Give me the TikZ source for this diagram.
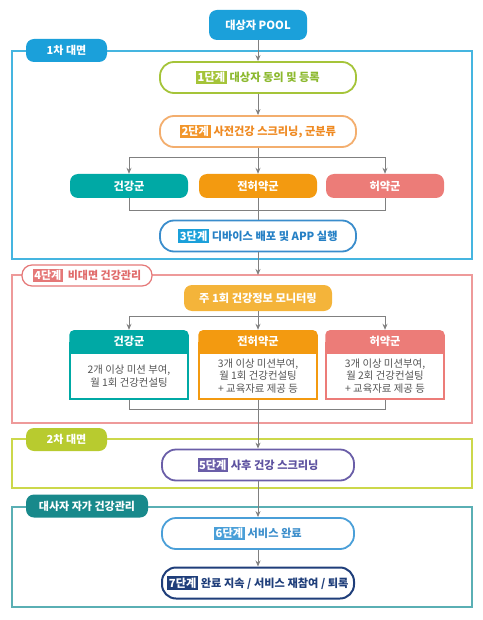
\documentclass[tikz,border=0pt]{standalone}
\usepackage{fontspec}
\setmainfont{Noto Sans CJK KR}
\usetikzlibrary{arrows.meta,calc}
\definecolor{sky}{HTML}{1BA0DA}
\definecolor{skyframe}{HTML}{45B5E0}
\definecolor{grn}{HTML}{A5C439}
\definecolor{grntxt}{HTML}{8CB92E}
\definecolor{org}{HTML}{F2962B}
\definecolor{orgtxt}{HTML}{EF8A22}
\definecolor{orgbd}{HTML}{F3AE6E}
\definecolor{blu}{HTML}{3A8DCC}
\definecolor{blutxt}{HTML}{2580C5}
\definecolor{tealg}{HTML}{00A9A5}
\definecolor{orgg}{HTML}{F39A10}
\definecolor{pinkg}{HTML}{EC7C78}
\definecolor{pinkfr}{HTML}{EE9A9A}
\definecolor{pinktag}{HTML}{E57878}
\definecolor{pinktxt}{HTML}{E06A6A}
\definecolor{gold}{HTML}{F4B43A}
\definecolor{yg}{HTML}{B8CB2F}
\definecolor{ygframe}{HTML}{CCD84B}
\definecolor{purp}{HTML}{6A5EA8}
\definecolor{purptxt}{HTML}{5D52A0}
\definecolor{teal2}{HTML}{18898B}
\definecolor{tealframe}{HTML}{5AAFB4}
\definecolor{lblu}{HTML}{4A9FD8}
\definecolor{lblutxt}{HTML}{3D8FCC}
\definecolor{navy}{HTML}{1F3E7A}
\definecolor{conn}{HTML}{808080}
\definecolor{bodytxt}{HTML}{555555}
\newcommand{\stagetag}[2]{{\setlength{\fboxsep}{1.5pt}\colorbox{#1}{\textcolor{white}{\bfseries #2}}}}
\begin{document}
\begin{tikzpicture}[x=1pt,y=-1pt,
  frame/.style={line width=1.5pt},
  tabbox/.style={rounded corners=8pt, text=white, font=\bfseries\fontsize{11}{13}\selectfont, minimum height=23pt, inner sep=2pt},
  pill/.style={draw, fill=white, rounded corners=14pt, line width=1.8pt, minimum width=196pt, minimum height=31pt, font=\bfseries\fontsize{11.2}{13}\selectfont, inner sep=2pt},
  grp/.style={rounded corners=8pt, text=white, minimum width=118pt, minimum height=24pt, font=\bfseries\fontsize{11.2}{13}\selectfont, inner sep=1pt},
  cardhead/.style={rounded corners=5pt, text=white, minimum width=119.5pt, minimum height=23pt, inner sep=1pt},
  headtxt/.style={text=white, font=\bfseries\fontsize{11.2}{13}\selectfont},
  cardbody/.style={fill=white, line width=1.5pt, minimum width=118pt, minimum height=46pt, align=center, text=bodytxt, font=\fontsize{10.4}{12.5}\selectfont, inner sep=1pt},
  line/.style={draw=conn, line width=1pt},
  arr/.style={line, -{Stealth[length=6pt,width=5pt]}}
]
\useasboundingbox (0,0) rectangle (482,620);
% frames
\draw[frame, draw=skyframe] (12,51) rectangle (472,259);
\draw[frame, draw=pinkfr] (12,275) rectangle (472,423);
\draw[frame, draw=ygframe] (12,439) rectangle (472,488);
\draw[frame, draw=tealframe] (12,507) rectangle (472,607);
\coordinate (f4top) at (258,275);
\coordinate (br1) at (258,158);
\coordinate (mg1) at (258,211);
\coordinate (br2) at (258,316);
\coordinate (mg2) at (258,409);

% nodes
\node[rounded corners=8pt, fill=sky, text=white, minimum width=98pt, minimum height=30pt, font=\bfseries\fontsize{11.2}{13}\selectfont] (pool) at (258,25) {대상자 POOL};
\node[tabbox, fill=sky, minimum width=81pt] (tab1) at (66.5,50.5) {1차 대면};
\node[pill, draw=grn, text=grntxt] (s1) at (258,77.5) {\stagetag{grn}{1단계}\hspace{3pt}대상자 동의 및 등록};
\node[pill, draw=orgbd, text=orgtxt] (s2) at (258,131.5) {\stagetag{org}{2단계}\hspace{3pt}사전건강 스크리닝, 군분류};
\node[grp, fill=tealg] (g1) at (129,186) {건강군};
\node[grp, fill=orgg] (g2) at (258,186) {전허약군};
\node[grp, fill=pinkg] (g3) at (385,186) {허약군};
\node[pill, draw=blu, text=blutxt] (s3) at (258,236) {\stagetag{sky}{3단계}\hspace{3pt}디바이스 배포 및 APP 실행};

\node[draw=pinktag, fill=white, line width=1.2pt, rounded corners=10pt, minimum width=130pt, minimum height=21pt, inner sep=2pt, font=\bfseries\fontsize{11}{13}\selectfont] (tab4) at (87,275.5) {\stagetag{pinktag}{4단계}\hspace{5pt}\textcolor{pinktxt}{비대면 건강관리}};
\node[rounded corners=8pt, fill=gold, text=white, minimum width=148pt, minimum height=26pt, font=\bfseries\fontsize{11.2}{13}\selectfont] (mon) at (258,298) {주 1회 건강정보 모니터링};

\node[cardbody, draw=tealg] (b1) at (129,376) {2개 이상 미션 부여,\\월 1회 건강컨설팅};
\node[cardbody, draw=orgg] (b2) at (258,376) {3개 이상 미션부여,\\월 1회 건강컨설팅\\+ 교육자료 제공 등};
\node[cardbody, draw=pinkg] (b3) at (385,376) {3개 이상 미션부여,\\월 2회 건강컨설팅\\+ 교육자료 제공 등};
\node[cardhead, fill=tealg] (h1) at (129,341.5) {};
\fill[tealg] (h1.west) rectangle (h1.south east);
\node[cardhead, fill=orgg] (h2) at (258,341.5) {};
\fill[orgg] (h2.west) rectangle (h2.south east);
\node[cardhead, fill=pinkg] (h3) at (385,341.5) {};
\fill[pinkg] (h3.west) rectangle (h3.south east);
\node[headtxt] (t1) at (h1.center) {건강군};
\node[headtxt] (t2) at (h2.center) {전허약군};
\node[headtxt] (t3) at (h3.center) {허약군};

\node[tabbox, fill=yg, minimum width=81pt] (tab2) at (66.5,439.5) {2차 대면};
\node[pill, draw=purp, text=purptxt, minimum width=192pt] (s5) at (258,465) {\stagetag{purp}{5단계}\hspace{3pt}사후 건강 스크리닝};
\node[tabbox, fill=teal2, minimum width=122pt] (tab3) at (87,506) {대사자 자가 건강관리};
\node[pill, draw=lblu, text=lblutxt, minimum width=192pt] (s6) at (258,533.5) {\stagetag{lblu}{6단계}\hspace{3pt}서비스 완료};
\node[pill, draw=navy, text=navy, minimum width=192pt, line width=2pt] (s7) at (258,583) {\stagetag{navy}{7단계}\hspace{3pt}완료 지속 / 서비스 재참여 / 퇴록};

% connectors
\draw[arr] (pool.south) -- (s1.north);
\draw[arr] (s1.south) -- (s2.north);
\draw[line] (s2.south) -- (br1);
\draw[arr] (br1) -| (g1.north);
\draw[arr] (br1) -- (g2.north);
\draw[arr] (br1) -| (g3.north);
\draw[line] (g1.south) |- (mg1);
\draw[line] (g3.south) |- (mg1);
\draw[line] (g2.south) -- (s3.north);
\draw[arr] (s3.south) -- (f4top);
\draw[line] (mon.south) -- (br2);
\draw[arr] (br2) -| (h1.north);
\draw[arr] (br2) -- (h2.north);
\draw[arr] (br2) -| (h3.north);
\draw[line] (b1.south) |- (mg2);
\draw[line] (b3.south) |- (mg2);
\draw[line] (b2.south) -- (mg2);
\draw[arr] (mg2) -- (s5.north);
\draw[arr] (s5.south) -- (s6.north);
\draw[arr] (s6.south) -- (s7.north);
\end{tikzpicture}
\end{document}
